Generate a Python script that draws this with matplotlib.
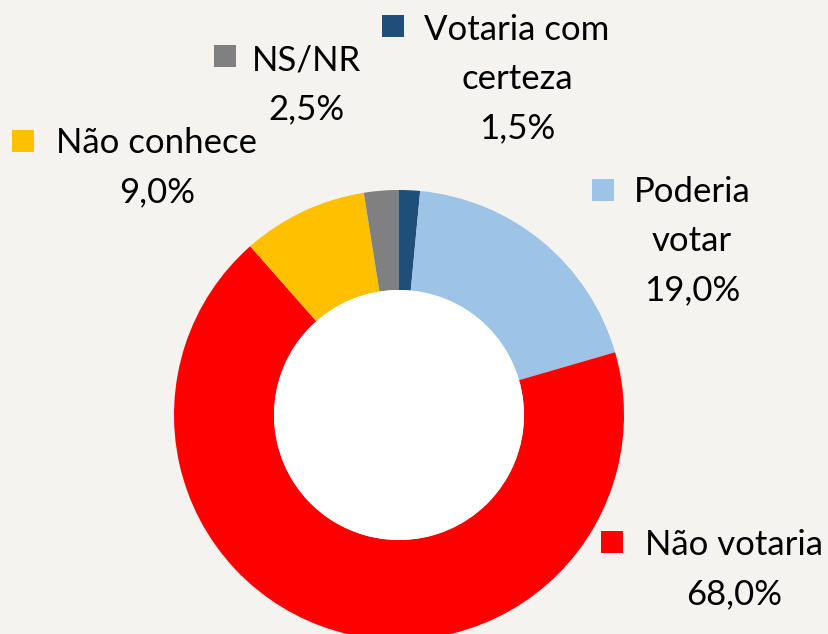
import matplotlib
matplotlib.use("Agg")
import matplotlib.pyplot as plt
from matplotlib.patches import Circle, Rectangle

# donut data, clockwise from 12 o'clock
categories = ["Votaria com certeza", "Poderia votar", "Não votaria", "Não conhece", "NS/NR"]
values = [1.5, 19.0, 68.0, 9.0, 2.5]
colors = ["#1F4E79", "#9DC3E6", "#FF0000", "#FFC000", "#808080"]
label_lines = [["Votaria com", "certeza"], ["Poderia", "votar"], ["Não votaria"], ["Não conhece"], ["NS/NR"]]

W, H = 829, 634
bg = "#f4f3f0"

fig = plt.figure(figsize=(W / 100, H / 100), dpi=100, facecolor=bg)
ax = fig.add_axes([0, 0, 1, 1])

cx, cy, r_out, r_in = 399, H - 415, 225, 125
ax.pie(values, colors=colors, startangle=90, counterclock=False,
       center=(cx, cy), radius=r_out, frame=True,
       wedgeprops=dict(width=r_out - r_in, linewidth=0))
ax.set_xlim(0, W)
ax.set_ylim(0, H)
ax.set_aspect("equal")
ax.axis("off")
# white hole in the middle
ax.add_patch(Circle((cx, cy), r_in, facecolor="white", edgecolor="none", zorder=3))

# label placement in pixels: text centre x, first baseline y, marker left x, marker top y
label_pos = [(517, 40, 382, 15), (692, 202, 592, 179), (734, 555, 601, 531),
             (157, 153, 12, 130), (306, 70, 214, 45)]

fs = 25
step = 49
for lines, v, c, (tx, ty, mx, my) in zip(label_lines, values, colors, label_pos):
    all_lines = lines + [f"{v:.1f}%".replace(".", ",")]
    for i, line in enumerate(all_lines):
        ax.text(tx, H - (ty + i * step), line, ha="center", va="baseline",
                fontsize=fs, family="Lato", color="black", zorder=5)
    ax.add_patch(Rectangle((mx, H - my - 22), 22, 22, facecolor=c, edgecolor="none", zorder=5))

fig.savefig("out.png", dpi=100, facecolor=bg)
